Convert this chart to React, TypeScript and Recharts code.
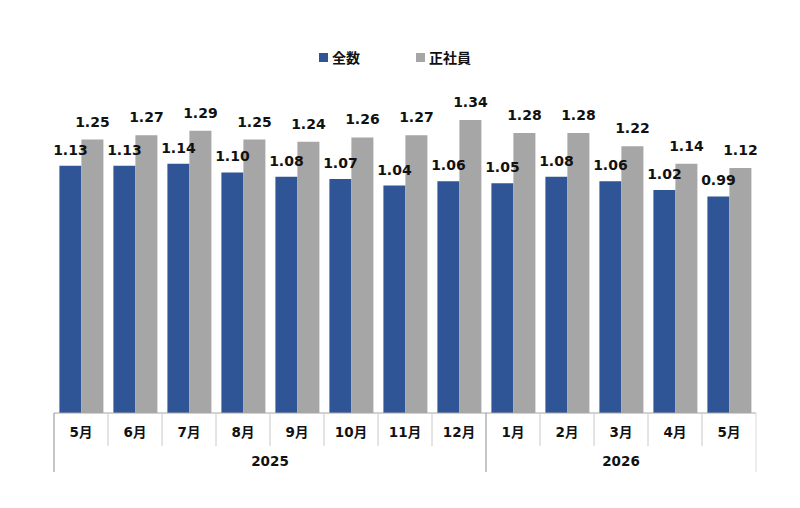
import React from "react";
import { BarChart, Bar, XAxis, YAxis, Legend, LabelList } from "recharts";

const months = ["5月", "6月", "7月", "8月", "9月", "10月", "11月", "12月", "1月", "2月", "3月", "4月", "5月"];
const years = ["2025", "2025", "2025", "2025", "2025", "2025", "2025", "2025", "2026", "2026", "2026", "2026", "2026"];
const allValues = [1.13, 1.13, 1.14, 1.1, 1.08, 1.07, 1.04, 1.06, 1.05, 1.08, 1.06, 1.02, 0.99];
const regularValues = [1.25, 1.27, 1.29, 1.25, 1.24, 1.26, 1.27, 1.34, 1.28, 1.28, 1.22, 1.14, 1.12];
const seriesNames = ["全数", "正社員"];

const data = months.map((m, i) => ({
  key: `${years[i]}-${i}`,
  month: m,
  year: years[i],
  all: allValues[i],
  regular: regularValues[i],
}));

const W = 784;
const H = 492;
const MARGIN = { top: 35, right: 36, left: 46, bottom: 27 };
const AXIS_H = 60;
const BAND = (W - MARGIN.left - MARGIN.right) / months.length;
const AXIS_Y = H - MARGIN.bottom - AXIS_H;
const FONT = "'DejaVu Sans', Verdana, 'Noto Sans CJK JP', sans-serif";

const BLUE = "#2F5597";
const GRAY = "#A6A6A6";

const MonthTick = (props: any) => {
  const { x, payload } = props;
  const i = payload.index;
  const left = x - BAND / 2;
  const right = x + BAND / 2;
  const isYearStart = i === 0 || years[i] !== years[i - 1];
  const isLast = i === months.length - 1;
  const els: React.ReactNode[] = [];
  els.push(
    <line
      key="l"
      x1={left}
      x2={left}
      y1={AXIS_Y}
      y2={AXIS_Y + (isYearStart ? 59 : 33)}
      stroke={isYearStart ? "#8C8C8C" : "#C8C8C8"}
      strokeWidth={1}
    />
  );
  if (isLast) {
    els.push(
      <line key="r" x1={right} x2={right} y1={AXIS_Y} y2={AXIS_Y + 59} stroke="#D9D9D9" strokeWidth={1} />
    );
  }
  els.push(
    <text
      key="t"
      x={x}
      y={AXIS_Y + 19}
      textAnchor="middle"
      dominantBaseline="central"
      fontFamily={FONT}
      fontWeight="bold"
      fontSize={13.5}
      fill="#111"
    >
      {months[i]}
    </text>
  );
  if (isYearStart) {
    let j = i;
    while (j + 1 < years.length && years[j + 1] === years[i]) j++;
    const count = j - i + 1;
    const cx = left + (count * BAND) / 2;
    els.push(
      <text
        key="y"
        x={cx}
        y={AXIS_Y + 48}
        textAnchor="middle"
        dominantBaseline="central"
        fontFamily={FONT}
        fontWeight="bold"
        fontSize={13.5}
        fill="#111"
      >
        {years[i]}
      </text>
    );
  }
  return <g>{els}</g>;
};

const LegendContent = () => (
  <div
    style={{
      height: 20,
      display: "flex",
      justifyContent: "center",
      alignItems: "center",
      color: "#111",
      gap: 56,
      paddingRight: 10,
    }}
  >
    {[BLUE, GRAY].map((c, i) => (
      <div key={i} style={{ display: "flex", alignItems: "center" }}>
        <span style={{ display: "inline-block", width: 9, height: 9, background: c, marginRight: 4 }} />
        <span style={{ fontFamily: "'Noto Sans CJK JP', sans-serif", fontWeight: 700, fontSize: 14 }}>
          {seriesNames[i]}
        </span>
      </div>
    ))}
  </div>
);

const labelStyle = {
  fontFamily: FONT,
  fontWeight: "bold" as const,
  fontSize: 14,
  fill: "#111",
};

export default function App() {
  return (
    <BarChart width={W} height={H} data={data} margin={MARGIN} barCategoryGap="10%" barGap={0}>
      <Legend
        verticalAlign="top"
        content={<LegendContent />}
        wrapperStyle={{ top: 39, left: 0, width: W, height: 20 }}
      />
      <XAxis
        dataKey="key"
        height={AXIS_H}
        interval={0}
        tickLine={false}
        axisLine={{ stroke: "#A6A6A6" }}
        tick={(p: any) => <MonthTick {...p} />}
      />
      <YAxis hide domain={[0, 1.6]} />
      <Bar dataKey="all" name={seriesNames[0]} fill={BLUE} isAnimationActive={false}>
        <LabelList dataKey="all" position="top" offset={11} formatter={(v: any) => Number(v).toFixed(2)} style={labelStyle} />
      </Bar>
      <Bar dataKey="regular" name={seriesNames[1]} fill={GRAY} isAnimationActive={false}>
        <LabelList dataKey="regular" position="top" offset={13} formatter={(v: any) => Number(v).toFixed(2)} style={labelStyle} />
      </Bar>
    </BarChart>
  );
}
